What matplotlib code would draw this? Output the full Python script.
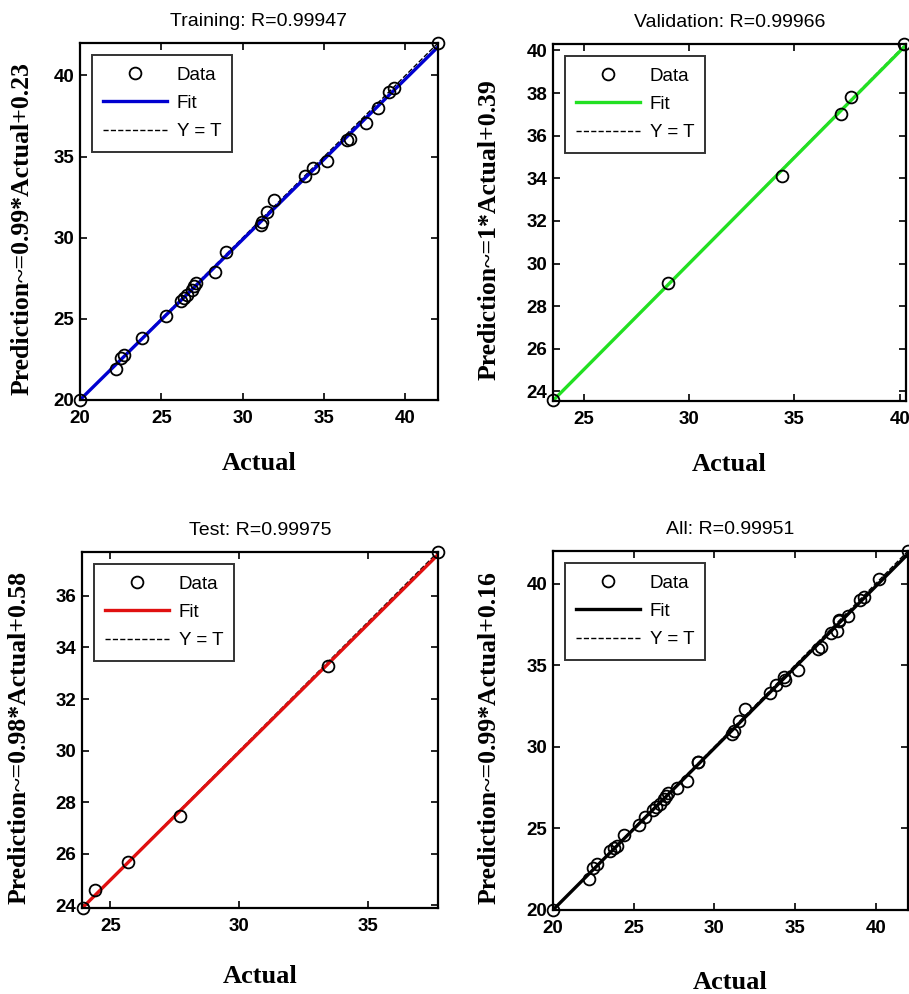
import numpy as np
import matplotlib
matplotlib.use("Agg")
import matplotlib.pyplot as plt
from matplotlib.ticker import MultipleLocator

# ====== data ======
train_actual = [20.0, 22.2, 22.5, 22.7, 23.8, 25.3, 26.2, 26.4, 26.6, 26.9, 27.0, 27.1, 28.3, 29.0,
                31.1, 31.2, 31.5, 31.9, 33.8, 34.3, 35.2, 36.4, 36.6, 37.6, 38.3, 39.0, 39.3, 42.0]
train_pred = [20.0, 21.9, 22.6, 22.8, 23.8, 25.2, 26.1, 26.3, 26.5, 26.8, 27.0, 27.2, 27.9, 29.1,
              30.8, 31.0, 31.6, 32.3, 33.8, 34.3, 34.7, 36.0, 36.1, 37.1, 38.0, 39.0, 39.2, 42.0]

val_actual = [23.55, 29.0, 34.4, 37.2, 37.7, 40.2]
val_pred = [23.6, 29.1, 34.1, 37.0, 37.8, 40.3]

test_actual = [23.95, 24.4, 25.7, 27.7, 33.45, 37.7]
test_pred = [23.9, 24.6, 25.7, 27.45, 33.3, 37.7]

all_actual = train_actual + val_actual + test_actual
all_pred = train_pred + val_pred + test_pred

titles = ["Training: R=0.99947", "Validation: R=0.99966", "Test: R=0.99975", "All: R=0.99951"]
ylabels = ["Prediction~=0.99*Actual+0.23", "Prediction~=1*Actual+0.39",
           "Prediction~=0.98*Actual+0.58", "Prediction~=0.99*Actual+0.16"]
fit_colors = ["#0000d0", "#22e022", "#e01010", "#000000"]
tick_steps = [(5, 5), (5, 2), (5, 2), (5, 5)]

# ====== layout (pixels of a 909x994 canvas) ======
W, H = 909, 994
boxes = [(80, 43, 438, 400), (553, 44, 906, 401), (82, 552, 438, 908), (553, 551, 908, 910)]
ylab_x = [-0.13, -0.148, -0.145, -0.148]
xlab_y = [-0.145, -0.145, -0.16, -0.17]

sans = ["Liberation Sans", "DejaVu Sans"]
narrow = ["Liberation Sans Narrow", "Liberation Sans", "DejaVu Sans"]
serif = ["Liberation Serif", "DejaVu Serif"]
plt.rcParams["font.family"] = sans

fig = plt.figure(figsize=(W / 100, H / 100), dpi=100)

sets = [(train_actual, train_pred), (val_actual, val_pred), (test_actual, test_pred), (all_actual, all_pred)]

for i, (act, pred) in enumerate(sets):
    x0, y0, x1, y1 = boxes[i]
    ax = fig.add_axes([x0 / W, 1 - y1 / H, (x1 - x0) / W, (y1 - y0) / H])
    act = np.array(act)
    pred = np.array(pred)
    lo = min(act.min(), pred.min())
    hi = max(act.max(), pred.max())

    # linear fit like plotregression
    slope, icpt = np.polyfit(act, pred, 1)
    xx = np.array([lo, hi])
    ax.plot(act, pred, "o", mfc="none", mec="black", ms=8.5, mew=1.3, label="Data",
            zorder=3, clip_on=False)
    ax.plot(xx, slope * xx + icpt, "-", color=fit_colors[i], lw=2.4, label="Fit", zorder=2)
    ax.plot(xx, xx, "--", color="black", lw=1.0, label="Y = T", zorder=1)

    ax.set_xlim(lo, hi)
    ax.set_ylim(lo, hi)
    ax.xaxis.set_major_locator(MultipleLocator(tick_steps[i][0]))
    ax.yaxis.set_major_locator(MultipleLocator(tick_steps[i][1]))

    ax.tick_params(direction="in", top=True, right=True, length=5, width=1.2, labelsize=13.5)
    ax.tick_params(axis="x", pad=7)
    ax.tick_params(axis="y", pad=4)
    for lab in ax.get_xticklabels() + ax.get_yticklabels():
        lab.set_fontweight("bold")
    for sp in ax.spines.values():
        sp.set_linewidth(1.6)

    ax.set_title(titles[i], family=narrow, fontsize=14, pad=12)
    ax.set_xlabel("Actual", family=serif, fontweight="bold", fontsize=19)
    ax.xaxis.set_label_coords(0.5, xlab_y[i])
    ax.set_ylabel(ylabels[i], family=serif, fontweight="bold", fontsize=18.5)
    ax.yaxis.set_label_coords(ylab_x[i], 0.48)

    leg = ax.legend(loc="upper left", frameon=True, fancybox=False, edgecolor="black",
                    prop={"family": sans, "size": 13.5}, handlelength=3.4, handletextpad=0.5,
                    labelspacing=0.6, borderaxespad=0.65, borderpad=0.6, numpoints=1)
    leg.get_frame().set_linewidth(1.4)

fig.savefig("out.png", dpi=100)
